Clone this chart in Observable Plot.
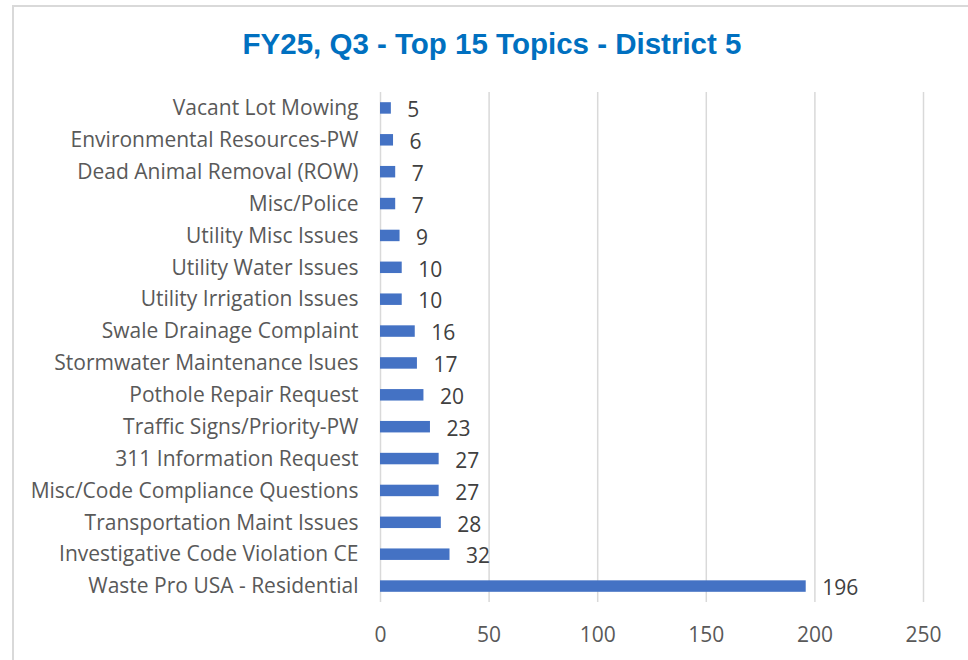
<!DOCTYPE html>
<html><head><meta charset="utf-8">
<script src="https://cdn.jsdelivr.net/npm/d3@7"></script>
<script src="https://cdn.jsdelivr.net/npm/@observablehq/plot@0.6"></script>
<style>
html,body{margin:0;padding:0;background:#fff;}
#wrap{position:relative;width:968px;height:660px;overflow:hidden;}
#frame{position:absolute;left:12px;top:5px;width:1000px;height:700px;border:2px solid #d9d9d9;box-sizing:border-box;}
#title{position:absolute;left:0;top:26px;width:984px;text-align:center;font-family:"Liberation Sans",Arial,sans-serif;font-weight:bold;font-size:29.5px;line-height:36px;color:#0070C0;}
#chart{position:absolute;left:0;top:0;}
</style></head>
<body><div id="wrap"><div id="frame"></div><div id="title">FY25, Q3 - Top 15 Topics - District 5</div><div id="chart"></div></div>
<script>
const topics = ["Vacant Lot Mowing","Environmental Resources-PW","Dead Animal Removal (ROW)","Misc/Police","Utility Misc Issues","Utility Water Issues","Utility Irrigation Issues","Swale Drainage Complaint","Stormwater Maintenance Isues","Pothole Repair Request","Traffic Signs/Priority-PW","311 Information Request","Misc/Code Compliance Questions","Transportation Maint Issues","Investigative Code Violation CE","Waste Pro USA - Residential"];
const counts = [5,6,7,7,9,10,10,16,17,20,23,27,27,28,32,196];
const xTicks = [0,50,100,150,200,250];
const data = topics.map((t,i)=>({topic:t, count:counts[i]}));
const chart = Plot.plot({
  width: 968, height: 660,
  marginLeft: 380, marginRight: 45, marginTop: 92, marginBottom: 58,
  style: {fontFamily: "'Open Sans', sans-serif", fontSize: "21px", color: "#595959", background: "transparent"},
  x: {domain: [0,250], ticks: xTicks, label: null, tickSize: 0, tickPadding: 25},
  y: {domain: topics, label: null, paddingInner: 0.64, paddingOuter: 0.32, round: false, tickSize: 0, tickPadding: 22},
  marks: [
    Plot.ruleX(xTicks, {stroke: "#d9d9d9", strokeWidth: 1.5}),
    Plot.barX(data, {x: "count", y: "topic", fill: "#4472C4"}),
    Plot.text(data, {x: "count", y: "topic", text: d => String(d.count), textAnchor: "start", dx: 16, dy: 2, fill: "#404040", fontSize: 21})
  ]
});
document.getElementById("chart").appendChild(chart);
</script></body></html>
